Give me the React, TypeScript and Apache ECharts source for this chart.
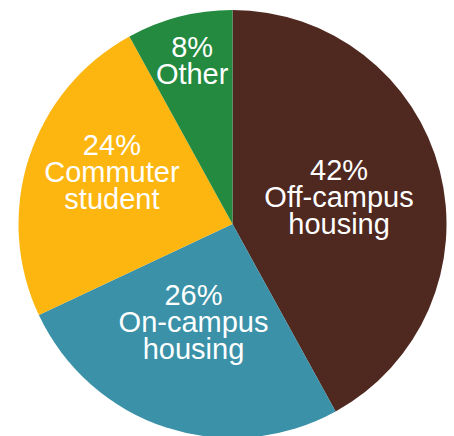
import React, { useEffect, useRef } from "react";
import * as echarts from "echarts";

const categories = ["Off-campus\nhousing", "On-campus\nhousing", "Commuter\nstudent", "Other"];
const values = [42, 26, 24, 8];
const colors = ["#4F2820", "#3A91A8", "#FDB50F", "#238A3F"];
const labelOffsets: number[][] = [[0, 0], [-5, -7], [-16, -18], [-13, -57]];

export default function App() {
  const ref = useRef<HTMLDivElement>(null);
  useEffect(() => {
    if (!ref.current) return;
    const chart = echarts.init(ref.current, undefined, { renderer: "svg" });
    chart.setOption({
      animation: false,
      series: [
        {
          type: "pie",
          center: [232.5, 224],
          radius: 214,
          startAngle: 90,
          clockwise: true,
          silent: true,
          itemStyle: { borderWidth: 0 },
          label: {
            show: true,
            position: "inside",
            color: "#ffffff",
            fontFamily: "Liberation Sans",
            fontSize: 29,
            lineHeight: 27,
            align: "center",
            formatter: (p: any) => `${p.value}%\n${p.name}`,
          },
          labelLine: { show: false },
          data: categories.map((c, i) => ({
            name: c,
            value: values[i],
            itemStyle: { color: colors[i] },
            label: { offset: labelOffsets[i] },
          })),
        },
      ],
    });
    return () => chart.dispose();
  }, []);
  return (
    <div
      ref={ref}
      style={{ position: "fixed", left: 0, top: 0, width: 454, height: 436, background: "#ffffff" }}
    />
  );
}
